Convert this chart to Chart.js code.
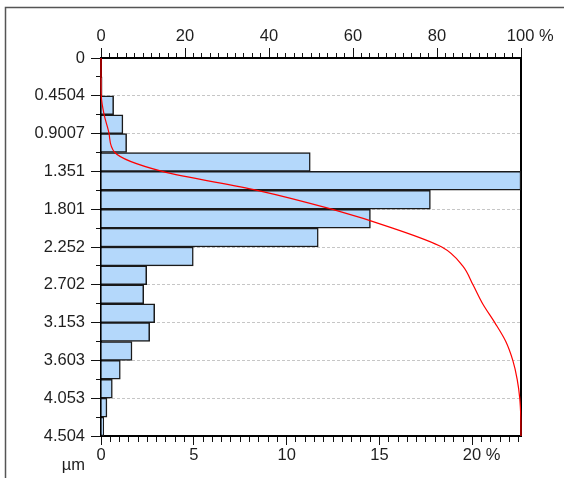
<!DOCTYPE html>
<html>
<head>
<meta charset="utf-8">
<script src="https://cdn.jsdelivr.net/npm/chart.js@4"></script>
<style>
    html, body { margin: 0; padding: 0; background: #fff; }
    #wrap { width: 564px; height: 478px; position: relative; }
</style>
</head>
<body>
<div id="wrap"><canvas id="chart"></canvas></div>
<script>
// bin edges (µm) and labels shown on every second edge
const binEdges = [0, 0.2252, 0.4504, 0.6756, 0.9007, 1.1259, 1.351, 1.5763, 1.8015, 2.0267, 2.252,
    2.4771, 2.702, 2.9275, 3.153, 3.3778, 3.603, 3.8282, 4.053, 4.2785, 4.504];
const yTickLabels = ['0', '0.4504', '0.9007', '1.351', '1.801', '2.252', '2.702', '3.153', '3.603', '4.053', '4.504'];

// frequency per bin (%), bottom axis
const freqPercent = [0, 0.06, 0.68, 1.18, 1.38, 11.27, 22.62, 17.74, 14.51, 11.70,
    4.97, 2.46, 2.30, 2.89, 2.62, 1.67, 1.04, 0.61, 0.32, 0.15];

// cumulative (%) at each bin edge, top axis
const cumulativePercent = [0, 0, 0.06, 0.74, 1.92, 3.30, 14.57, 37.19, 54.93, 69.44, 81.14,
    86.11, 88.57, 90.87, 93.76, 96.38, 98.05, 99.09, 99.70, 99.95, 100];

const bottomMax = 22.62;
const bottomTickStep = 0.5;
const topTickStep = 2;

const textColor = '#1e1e1e';
Chart.defaults.font.family = '"Liberation Sans", Arial, sans-serif';
Chart.defaults.font.size = 16.5;
Chart.defaults.color = textColor;

function stepTicks(max, step) {
    const out = [];
    for (let i = 0; i * step <= max + 1e-9; i++) out.push({ value: i * step });
    return out;
}

const framePlugin = {
    id: 'frame',
    beforeDraw(chart) {
        const ctx = chart.ctx;
        ctx.save();
        ctx.strokeStyle = '#555';
        ctx.lineWidth = 1.5;
        ctx.strokeRect(5.5, 7.5, chart.width + 50, chart.height + 50);
        ctx.restore();
    },
    afterDraw(chart) {
        // unit under the y labels
        const ctx = chart.ctx;
        const y = chart.scales.y;
        ctx.save();
        ctx.font = '16.5px "Liberation Sans", Arial, sans-serif';
        ctx.fillStyle = textColor;
        ctx.textAlign = 'right';
        ctx.textBaseline = 'alphabetic';
        ctx.fillText('µm', y.right - 16, y.bottom + 34);
        ctx.restore();
    }
};

const barData = freqPercent.map((v, i) => ({ x: v, y: (binEdges[i] + binEdges[i + 1]) / 2 }));
const cumData = cumulativePercent.map((v, i) => ({ x: v, y: binEdges[i] }));

new Chart(document.getElementById('chart'), {
    data: {
        datasets: [{
            type: 'line',
            label: 'cumulative',
            data: cumData,
            xAxisID: 'x2',
            yAxisID: 'y',
            borderColor: '#ff0000',
            borderWidth: 1.2,
            pointRadius: 0,
            fill: false,
            cubicInterpolationMode: 'monotone',
            clip: 2
        }, {
            type: 'bar',
            label: 'frequency',
            data: barData,
            xAxisID: 'x',
            yAxisID: 'y',
            backgroundColor: 'rgb(180, 216, 251)',
            borderColor: '#1a1a1a',
            borderWidth: 1.5,
            barPercentage: 1,
            categoryPercentage: 1
        }]
    },
    options: {
        indexAxis: 'y',
        responsive: true,
        maintainAspectRatio: false,
        animation: false,
        layout: { padding: 0 },
        plugins: {
            legend: { display: false },
            tooltip: { enabled: false }
        },
        scales: {
            y: {
                type: 'linear',
                position: 'left',
                reverse: true,
                offset: false,
                min: 0,
                max: binEdges[binEdges.length - 1],
                afterBuildTicks: s => { s.ticks = binEdges.map(v => ({ value: v })); },
                afterFit: s => { s.width = 101; },
                ticks: {
                    autoSkip: false,
                    padding: 6,
                    callback: (v, i) => (i % 2 === 0 ? yTickLabels[i / 2] : '')
                },
                grid: {
                    offset: false,
                    color: c => (c.index % 2 === 0 && c.index > 0 && c.index < binEdges.length - 1) ? '#c6c6c6' : 'rgba(0,0,0,0)',
                    tickColor: '#111',
                    tickLength: 10,
                    tickBorderDash: c => (c.index % 2 === 1 ? [0, 5, 6, 100] : [])
                },
                border: { color: '#000', width: 2, dash: [3, 2] }
            },
            y2: {
                type: 'linear',
                position: 'right',
                afterFit: s => { s.width = 43; },
                ticks: { display: false },
                grid: { drawOnChartArea: false, drawTicks: false },
                border: { color: '#000', width: 2 }
            },
            x: {
                type: 'linear',
                position: 'bottom',
                min: 0,
                max: bottomMax,
                afterBuildTicks: s => { s.ticks = stepTicks(bottomMax, bottomTickStep); },
                afterFit: s => { s.height = 42; },
                ticks: {
                    autoSkip: false,
                    maxRotation: 0,
                    padding: 1,
                    callback: v => (v % 5 === 0 ? (v === 20 ? '    20 %' : String(v)) : '')
                },
                grid: {
                    drawOnChartArea: false,
                    tickColor: '#111',
                    tickLength: 9,
                    tickBorderDash: c => (c.tick && c.tick.value % 5 !== 0 ? [5, 100] : [])
                },
                border: { color: '#000', width: 2 }
            },
            x2: {
                type: 'linear',
                position: 'top',
                min: 0,
                max: 100,
                afterBuildTicks: s => { s.ticks = stepTicks(100, topTickStep); },
                afterFit: s => { s.height = 58; },
                ticks: {
                    autoSkip: false,
                    maxRotation: 0,
                    padding: 2,
                    callback: v => (v % 20 === 0 ? (v === 100 ? '    100 %' : String(v)) : '')
                },
                grid: {
                    drawOnChartArea: false,
                    tickColor: '#111',
                    tickLength: 10,
                    tickBorderDash: c => (c.tick && c.tick.value % 20 !== 0 ? [0, 5, 6, 100] : [])
                },
                border: { color: '#000', width: 2 }
            }
        }
    },
    plugins: [framePlugin]
});
</script>
</body>
</html>
